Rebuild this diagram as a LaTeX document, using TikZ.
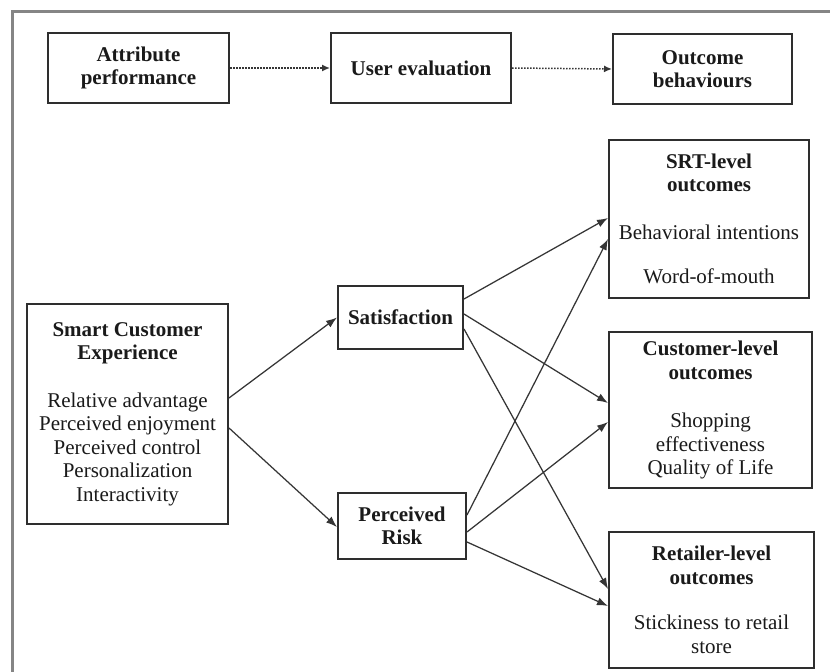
\documentclass[tikz,border=0pt]{standalone}
\usepackage{fontspec}
\setmainfont{Liberation Serif}
\usetikzlibrary{arrows.meta,calc}

\definecolor{framegray}{HTML}{858585}
\definecolor{boxline}{HTML}{2E2E2E}
\definecolor{arrowline}{HTML}{353535}
\definecolor{textcol}{HTML}{1A1A1A}

\tikzset{
  box/.style={draw=boxline, line width=2bp, rectangle, inner sep=0pt,
    align=center, text=textcol,
    font=\fontsize{21bp}{23.5bp}\selectfont},
  link/.style={draw=arrowline, line width=1.25bp,
    -{Latex[length=11bp,width=8bp]}},
  flow/.style={draw=arrowline, line width=1.5bp,
    dash pattern=on 1.5bp off 1.5bp,
    -{Latex[length=8bp,width=7bp]}},
}

\begin{document}
\begin{tikzpicture}[x=1bp,y=-1bp]
  \useasboundingbox (0,0) rectangle (830,672);
  \clip (0,0) rectangle (830,672);
  \fill[white] (0,0) rectangle (830,672);

  % outer frame (runs past the right and bottom edges)
  \draw[framegray, line width=3bp] (12,700) -- (12,12) -- (860,12);

  % top row: the evaluation chain
  \node[box, minimum width=181bp, minimum height=70bp] (attr) at (138.5,68)
    {\textbf{Attribute}\\\textbf{performance}};
  \node[box, minimum width=180bp, minimum height=70bp] (user) at (421,68)
    {\textbf{User evaluation}};
  \node[box, minimum width=179bp, minimum height=70bp] (outc) at (702.5,69)
    {\textbf{Outcome}\\\textbf{behaviours}};

  \draw[flow] (attr.east) -- (user.west);
  \draw[flow] (user.east) -- (outc.west);

  % left: antecedent construct
  \node[box, minimum width=201bp, minimum height=220bp] (sce) at (127.5,414)
    {\textbf{Smart Customer}\\\textbf{Experience}\\[24bp]
     Relative advantage\\Perceived enjoyment\\Perceived control\\
     Personalization\\Interactivity};

  % middle: mediators
  \node[box, minimum width=125bp, minimum height=63bp] (sat) at (400.5,317.5)
    {\textbf{Satisfaction}};
  \node[box, minimum width=128bp, minimum height=66bp] (risk) at (402,526)
    {\textbf{Perceived}\\\textbf{Risk}};

  % right: outcomes
  \node[box, minimum width=200bp, minimum height=158bp] (srt) at (709,219)
    {\textbf{SRT-level}\\\textbf{outcomes}\\[24bp]
     Behavioral intentions\\[21bp]Word-of-mouth};
  \node[box, minimum width=203bp, minimum height=156bp] (cust) at (710.5,410)
    {\textbf{Customer-level}\\\textbf{outcomes}\\[25bp]
     Shopping\\effectiveness\\Quality of Life};
  \node[box, minimum width=205bp, minimum height=136bp] (ret) at (711.5,600)
    {\textbf{Retailer-level}\\\textbf{outcomes}\\[22bp]
     Stickiness to retail\\store};

  % experience -> mediators
  \draw[link] ($(sce.east)+(0,-16)$) -- (sat.west);
  \draw[link] ($(sce.east)+(0,14)$) -- ($(risk.west)+(0,1)$);

  % satisfaction -> outcomes
  \draw[link] ($(sat.east)+(0,-18.5)$) -- ($(srt.west)+(0,-1)$);
  \draw[link] ($(sat.east)+(0,-3.5)$) -- ($(cust.west)+(0,-7)$);
  \draw[link] ($(sat.east)+(0,11.5)$) -- ($(ret.west)+(0,-11)$);

  % perceived risk -> outcomes
  \draw[link] ($(risk.east)+(0,-11)$) -- ($(srt.west)+(0,20)$);
  \draw[link] ($(risk.east)+(0,6)$) -- ($(cust.west)+(0,12)$);
  \draw[link] ($(risk.east)+(0,16)$) -- ($(ret.west)+(0,6)$);
\end{tikzpicture}
\end{document}
